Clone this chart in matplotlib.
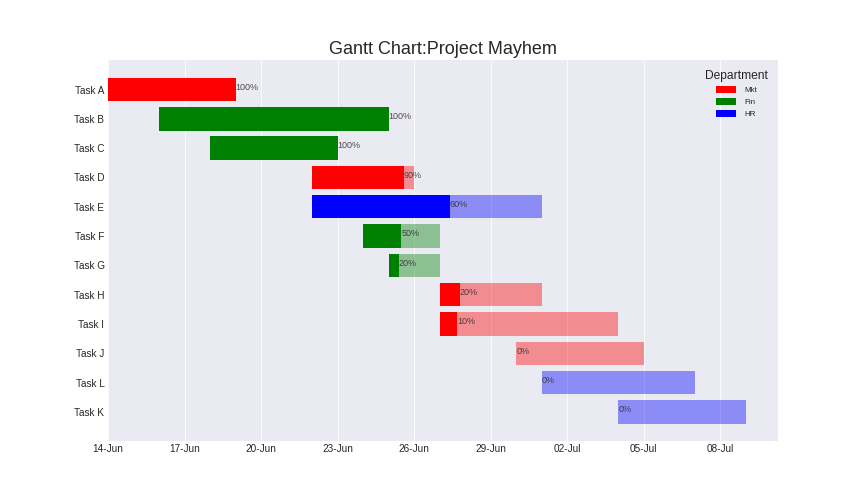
import matplotlib
matplotlib.use("Agg")
import matplotlib.pyplot as plt
from matplotlib.patches import Patch
import pandas as pd

tasks = ["Task A", "Task B", "Task C", "Task D", "Task E", "Task F",
         "Task G", "Task H", "Task I", "Task J", "Task L", "Task K"]
departments = ["Mkt", "Fin", "Fin", "Mkt", "HR", "Fin",
               "Fin", "Mkt", "Mkt", "Mkt", "HR", "HR"]
start_dates = ["2022-06-14", "2022-06-16", "2022-06-18", "2022-06-22", "2022-06-22", "2022-06-24",
               "2022-06-25", "2022-06-27", "2022-06-27", "2022-06-30", "2022-07-01", "2022-07-04"]
end_dates = ["2022-06-19", "2022-06-25", "2022-06-23", "2022-06-26", "2022-07-01", "2022-06-27",
             "2022-06-27", "2022-07-01", "2022-07-04", "2022-07-05", "2022-07-07", "2022-07-09"]
completion = [1.0, 1.0, 1.0, 0.9, 0.6, 0.5, 0.2, 0.2, 0.1, 0.0, 0.0, 0.0]
dept_colors = {"Mkt": "#FF0000", "Fin": "#008000", "HR": "#0000FF"}

df = pd.DataFrame({"Task": tasks, "Department": departments,
                   "Start": pd.to_datetime(start_dates), "End": pd.to_datetime(end_dates),
                   "Completion": completion})
proj_start = df.Start.min()
df["start_num"] = (df.Start - proj_start).dt.days
df["end_num"] = (df.End - proj_start).dt.days
df["duration"] = df.end_num - df.start_num
df["current"] = df.duration * df.Completion
df["color"] = df.Department.map(dept_colors)

plt.style.use("seaborn-v0_8-darkgrid")
plt.rcParams["font.family"] = ["Liberation Sans", "DejaVu Sans"]

fig, ax = plt.subplots(figsize=(12, 7), dpi=72)
fig.subplots_adjust(left=0.125, right=0.9, top=0.88, bottom=0.125)
ax.barh(df.Task, df.current, left=df.start_num, color=df.color)
ax.barh(df.Task, df.duration, left=df.start_num, color=df.color, alpha=0.4)

for idx, row in df.iterrows():
    ax.text(row.start_num + row.current, idx - 0.08, f"{int(round(row.Completion * 100))}%",
            va="center", ha="left", fontsize=9, color=".15", alpha=0.8)

ax.invert_yaxis()
ax.yaxis.grid(False)

xticks = list(range(0, int(df.end_num.max()), 3))
xlabels = pd.date_range(proj_start, periods=len(xticks), freq="3D").strftime("%d-%b")
ax.set_xticks(xticks)
ax.set_xticklabels(xlabels)
ax.tick_params(labelsize=10, colors=".15")

handles = [Patch(facecolor=dept_colors[d], label=d) for d in dept_colors]
leg = ax.legend(handles=handles, title="Department", loc="upper right", fontsize=8,
                title_fontsize=12, handlelength=2.5, handleheight=0.9, handletextpad=1.0,
                borderaxespad=0.8, frameon=False)

ax.set_title("Gantt Chart:Project Mayhem", fontsize=18, color=".15")

fig.savefig("out.png", dpi=72)
